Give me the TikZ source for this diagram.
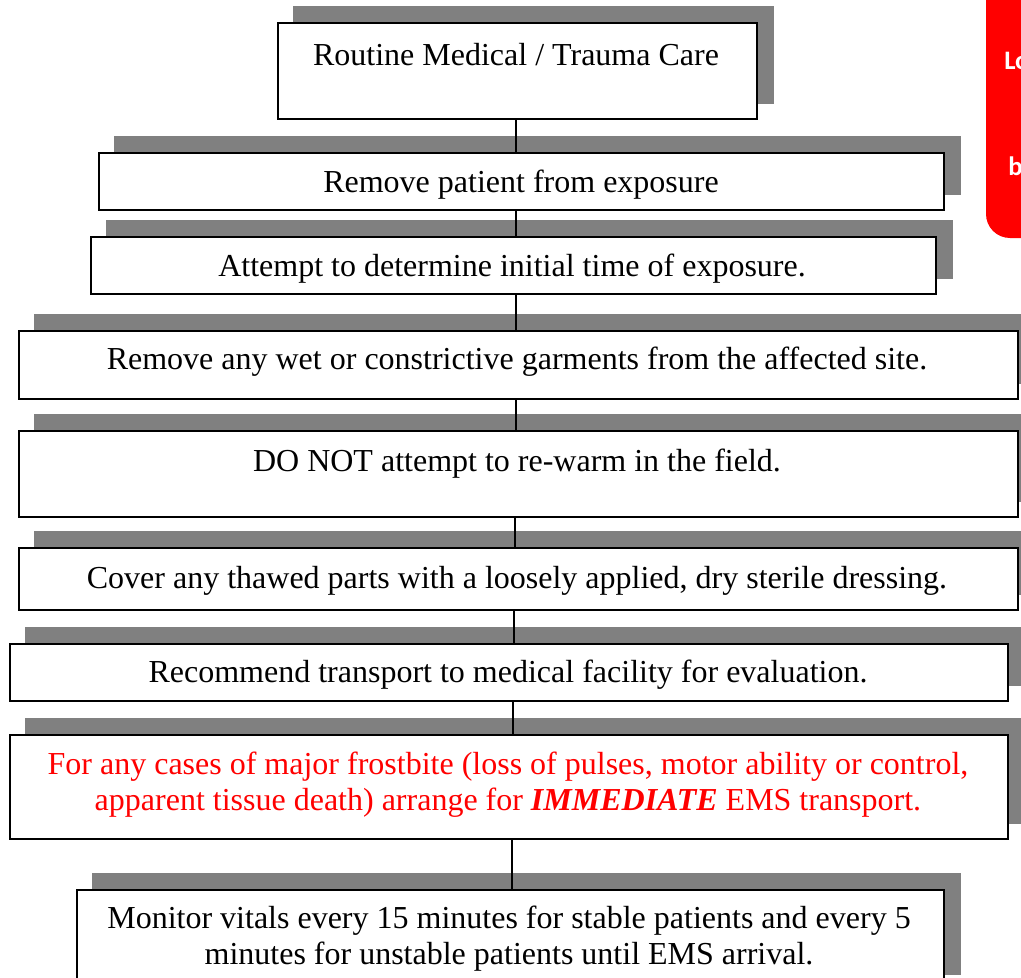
\documentclass[tikz,border=0pt]{standalone}
\usepackage{fontspec}
\setmainfont{Liberation Serif}
\newfontfamily\redsans{Carlito}
\usetikzlibrary{calc,backgrounds}
\definecolor{shadowgray}{RGB}{128,128,128}
\definecolor{alertred}{RGB}{255,0,0}
\tikzset{
  x=0.75pt, y=-0.75pt,
  stepbox/.style={draw=black, line width=1.5pt, fill=white, inner sep=0pt, anchor=north west},
  steptext/.style={font=\fontsize{24}{27}\selectfont, align=center, inner sep=0pt},
  conn/.style={draw=black, line width=1pt},
  shade/.style={fill=shadowgray, draw=none},
  tabtext/.style={text=white, font=\redsans\bfseries\fontsize{20}{22}\selectfont, anchor=west, inner sep=0pt}
}
\newcommand{\shadowof}[1]{\fill[shade] ($(#1.north west)+(16,-16)$) rectangle ($(#1.south east)+(16,-16)$);}
\begin{document}
\begin{tikzpicture}
\useasboundingbox (0,0) rectangle (1021,978);

% boxes
\node[stepbox, minimum width=479*0.75pt, minimum height=96*0.75pt] (b1) at (277,22) {};
\node[stepbox, minimum width=845*0.75pt, minimum height=57*0.75pt] (b2) at (98,152) {};
\node[stepbox, minimum width=845*0.75pt, minimum height=57*0.75pt] (b3) at (90,236) {};
\node[stepbox, minimum width=999*0.75pt, minimum height=68*0.75pt] (b4) at (18,330) {};
\node[stepbox, minimum width=999*0.75pt, minimum height=86*0.75pt] (b5) at (18,430) {};
\node[stepbox, minimum width=999*0.75pt, minimum height=62*0.75pt] (b6) at (18,547) {};
\node[stepbox, minimum width=998*0.75pt, minimum height=57*0.75pt] (b7) at (9,643) {};
\node[stepbox, minimum width=998*0.75pt, minimum height=104*0.75pt] (b8) at (9,734) {};
\node[stepbox, minimum width=867*0.75pt, minimum height=100*0.75pt] (b9) at (76,889) {};

% shadows and connectors behind the boxes
\begin{scope}[on background layer]
\clip (0,0) rectangle (1021,978);
\foreach \b in {b1,b2,b3,b4,b5,b6,b7,b8,b9}{\shadowof{\b}}
\draw[conn] (b1.south -| 516,0) -- (b2.north -| 516,0);
\draw[conn] (b2.south -| 516,0) -- (b3.north -| 516,0);
\draw[conn] (b3.south -| 516,0) -- (b4.north -| 516,0);
\draw[conn] (b4.south -| 516,0) -- (b5.north -| 516,0);
\draw[conn] (b5.south -| 515,0) -- (b6.north -| 515,0);
\draw[conn] (b6.south -| 514,0) -- (b7.north -| 514,0);
\draw[conn] (b7.south -| 513,0) -- (b8.north -| 513,0);
\draw[conn] (b8.south -| 512,0) -- (b9.north -| 512,0);
% red tab at top right (cut by the page edge, as in the reference)
\fill[alertred, rounded corners=18pt] (986,-40) rectangle (1080,238);
\node[tabtext] (tabA) at (1004,61) {Lo};
\node[tabtext] (tabB) at (1008,166) {b};
\end{scope}

% texts
\node[steptext] (t1) at (516,55) {Routine Medical / Trauma Care};
\node[steptext] (t2) at (521,185) {Remove patient from exposure};
\node[steptext] (t3) at (512,269) {Attempt to determine initial time of exposure.};
\node[steptext] (t4) at (517,362) {Remove any wet or constrictive garments from the affected site.};
\node[steptext] (t5) at (517,464) {DO NOT attempt to re-warm in the field.};
\node[steptext] (t6) at (517,581) {Cover any thawed parts with a loosely applied, dry sterile dressing.};
\node[steptext] (t7) at (508,675) {Recommend transport to medical facility for evaluation.};
\node[steptext, text=alertred] (t8) at (508,785) {For any cases of major frostbite (loss of pulses, motor ability or control,\\apparent tissue death) arrange for \textbf{\textit{IMMEDIATE}} EMS transport.};
\node[steptext] (t9) at (509,939) {Monitor vitals every 15 minutes for stable patients and every 5\\minutes for unstable patients until EMS arrival.};
\end{tikzpicture}
\end{document}
